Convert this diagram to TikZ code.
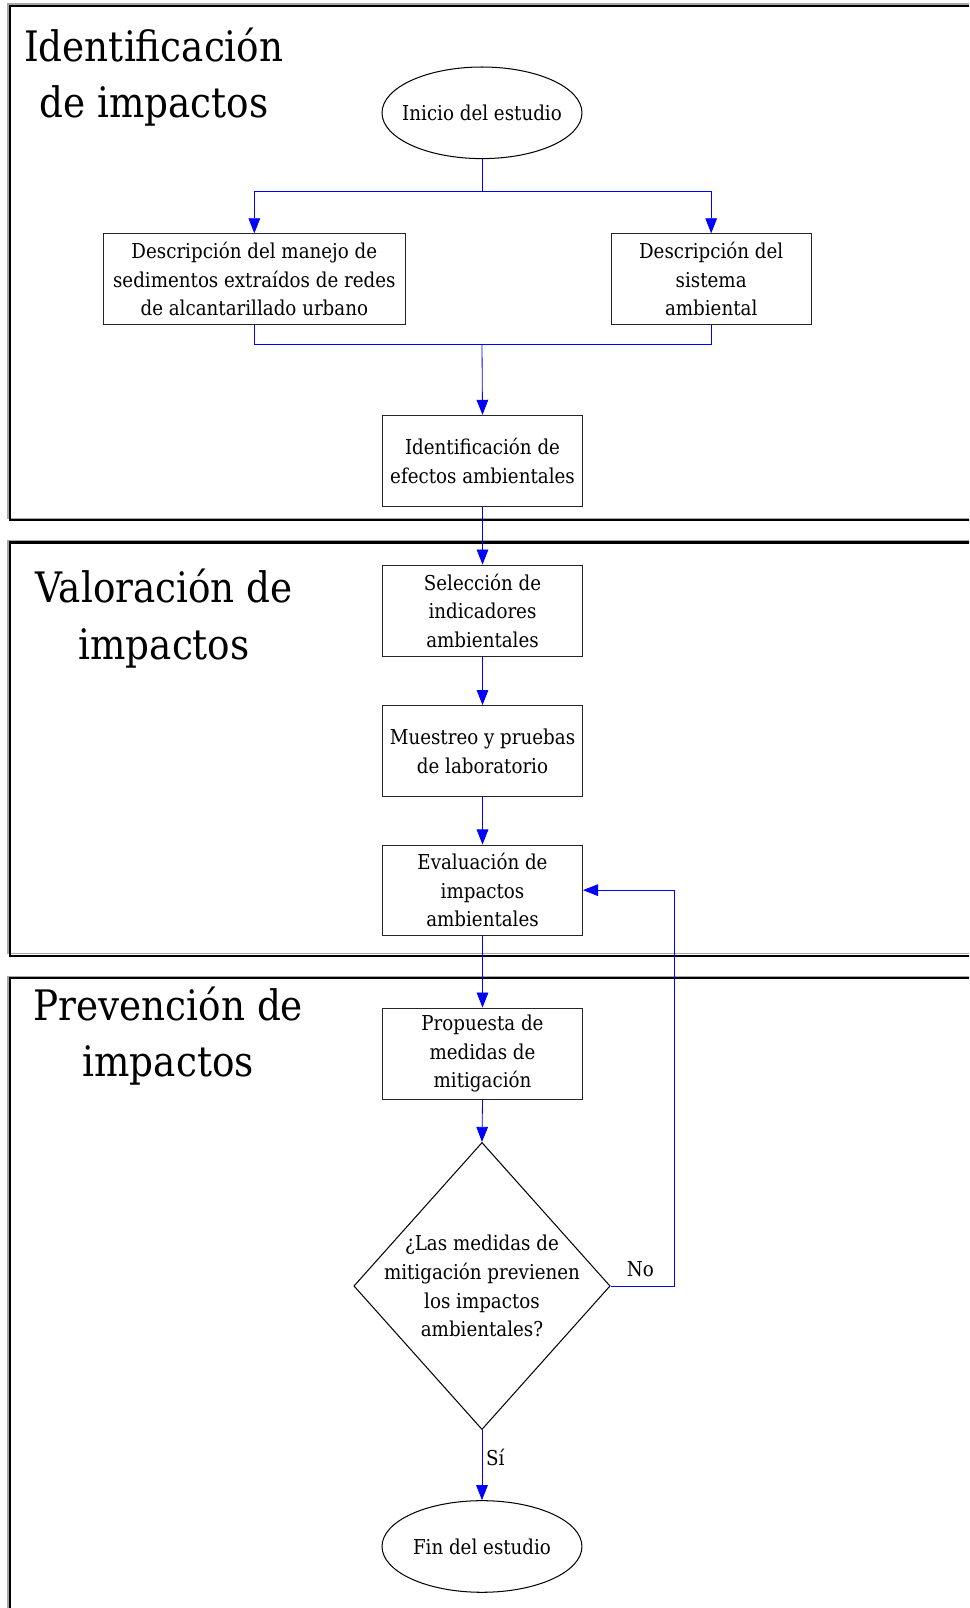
\documentclass[tikz,border=0pt]{standalone}
\usepackage{fontspec}
\setmainfont{DejaVu Serif}[FakeStretch=0.89]
\usetikzlibrary{shapes.geometric,arrows.meta,calc}
\begin{document}
\begin{tikzpicture}[x=0.75pt,y=-0.75pt,
 txt/.style={font=\fontsize{15pt}{21pt}\selectfont, align=center},
 box/.style={txt, draw=black!85, line width=0.75pt, rectangle, minimum width=146.25pt, minimum height=66.75pt, inner sep=0pt},
 term/.style={txt, draw=black, line width=0.75pt, ellipse, minimum width=146.25pt, minimum height=67pt, inner sep=0pt},
 ttl/.style={font=\fontsize{30.7pt}{41.25pt}\selectfont, align=center, inner sep=0pt},
 conn/.style={draw=blue, line width=0.6pt},
 arr/.style={conn, -{Triangle[length=11pt,width=8.5pt]}},
 pblack/.style={draw=black, line width=1.5pt},
 pgray/.style={draw=black!35, line width=1pt}
]
\useasboundingbox (0,0) rectangle (945,1568);
\begin{scope}
\clip (0,0) rectangle (945,1568);
\draw[pgray] (7.8,3.9) rectangle (1100,505.5);
\draw[pblack] (9.75,5.85) rectangle (1100,507.5);
\draw[pgray] (7.8,527) rectangle (1100,930);
\draw[pblack] (9.75,529) rectangle (1100,932);
\draw[pgray] (7.8,952) rectangle (1100,1700);
\draw[pblack] (9.75,954) rectangle (1100,1700);
\end{scope}

% titles
\node[ttl] (t1) at (150,75) {Identificación\\de impactos};
\node[ttl] (t2) at (160,603) {Valoración de\\impactos};
\node[ttl] (t3) at (164,1010) {Prevención de\\impactos};

% nodes
\node[term] (ini) at (470,110) {\makebox[0pt][c]{Inicio del estudio}};
\node[box, minimum width=220.5pt, minimum height=66pt] (A) at (248,272) {Descripción del manejo de\\sedimentos extraídos de redes\\de alcantarillado urbano};
\node[box, minimum height=66pt] (B) at (693.5,272) {Descripción del\\sistema\\ambiental};
\node[box] (C) at (470.5,449.5) {Identificación de\\efectos ambientales};
\node[box] (D) at (470.5,595.5) {Selección de\\indicadores\\ambientales};
\node[box] (E) at (470.5,732.5) {Muestreo y pruebas\\de laboratorio};
\node[box, minimum height=66pt] (F) at (470.5,868) {Evaluación de\\impactos\\ambientales};
\node[box] (G) at (470.5,1027.5) {Propuesta de\\medidas de\\mitigación};
\node[draw=black, line width=0.75pt, diamond, minimum width=187.5pt, minimum height=210pt, inner sep=0pt] (dec) at (470,1254) {};
\node[txt] (dect) at (470,1254) {¿Las medidas de\\mitigación previenen\\los impactos\\ambientales?};
\node[term] (fin) at (470,1508) {\makebox[0pt][c]{Fin del estudio}};

% connectors
\coordinate (fork) at (470,187);
\coordinate (join) at (470,336);
\draw[conn] (ini.south) -- (fork);
\draw[arr] (fork) -| (A.north);
\draw[arr] (fork) -| (B.north);
\draw[conn] (A.south) |- (join);
\draw[conn] (B.south) |- (join);
\draw[arr] (join) -- (C.north);
\draw[arr] (C.south) -- (D.north);
\draw[arr] (D.south) -- (E.north);
\draw[arr] (E.south) -- (F.north);
\draw[arr] (F.south) -- (G.north);
\draw[arr] (G.south) -- (dec.north);
\draw[arr] (dec.east) -- ++(62,0) coordinate (loopc) |- (F.east);
\draw[arr] (dec.south) -- (fin.north);
\node[txt, anchor=south, inner sep=2pt] (no) at ($(dec.east)+(29,-6)$) {No};
\node[txt, anchor=west, inner sep=2pt] (si) at ($(dec.south)+(1,27)$) {Sí};
\end{tikzpicture}
\end{document}
